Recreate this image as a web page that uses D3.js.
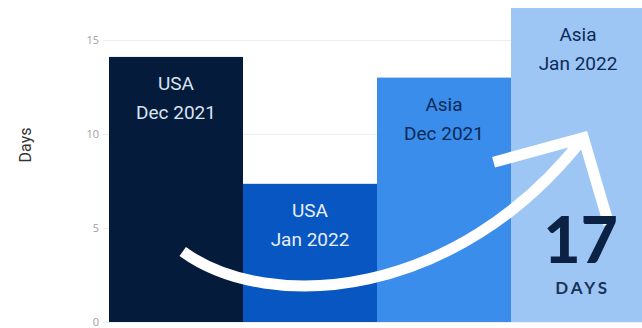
<!DOCTYPE html>
<html>
<head>
<meta charset="utf-8">
<script src="https://cdn.jsdelivr.net/npm/d3@7"></script>
<style>
  body { margin: 0; background: #fff; }
  svg { display: block; font-family: Roboto, "Noto Sans", sans-serif; }
</style>
</head>
<body>
<div id="chart"></div>
<script>
// 데이터
const regions = ['USA', 'USA', 'Asia', 'Asia'];
const months = ['Dec 2021', 'Jan 2022', 'Dec 2021', 'Jan 2022'];
const days = [14.1, 7.35, 13.0, 16.7];
const yTicks = [0, 5, 10, 15];
const barColors = ['#041b3b', '#0756c2', '#3a8deb', '#9ec6f5'];
const labelColors = ['#d9e4f1', '#e8eff9', '#0c2a55', '#0c2a55'];

// 화살표 (밴드 인덱스, 값) 좌표
const arrowCurve = [[0.55, 3.75], [1.2, 0.4], [2.6, 1.2], [3.54, 9.8]];
const arrowHead = [[2.87, 8.5], [3.54, 9.8], [3.73, 5.2]];
const bigNumber = '17';
const bigUnit = 'DAYS';

const width = 642, height = 328;
const margin = { top: 8, right: -3, bottom: 6, left: 109 };

const svg = d3.select('#chart')
  .append('svg')
  .attr('width', width)
  .attr('height', height);

const x = d3.scaleBand()
  .domain(d3.range(days.length))
  .range([margin.left, width - margin.right])
  .padding(0);

const xPos = d3.scaleLinear()
  .domain([0, days.length])
  .range([margin.left, width - margin.right]);

const y = d3.scaleLinear()
  .domain([0, 15])
  .range([height - margin.bottom, 40]);

// 그리드
svg.append('g')
  .attr('transform', `translate(${margin.left - 6},0)`)
  .call(d3.axisLeft(y).tickValues(yTicks).tickSize(-(width - margin.left + 6)).tickPadding(4))
  .call(g => g.select('.domain').remove())
  .call(g => g.selectAll('.tick line').attr('stroke', '#eeeeee'))
  .call(g => g.selectAll('.tick text')
    .attr('fill', '#a0a0a0')
    .attr('font-size', 11)
    .attr('font-family', '"Open Sans", sans-serif'));

// 축 제목
svg.append('text')
  .attr('transform', `translate(27,${145}) rotate(-90)`)
  .attr('text-anchor', 'middle')
  .attr('dominant-baseline', 'middle')
  .attr('font-size', 16)
  .attr('fill', '#333')
  .text('Days');

// 막대
svg.append('g')
  .selectAll('rect')
  .data(days)
  .join('rect')
  .attr('x', (d, i) => x(i))
  .attr('y', d => y(d))
  .attr('width', x.bandwidth())
  .attr('height', d => y(0) - y(d))
  .attr('fill', (d, i) => barColors[i]);

// 막대 라벨
const labels = svg.append('g')
  .selectAll('text')
  .data(days)
  .join('text')
  .attr('text-anchor', 'middle')
  .attr('font-size', 19)
  .attr('fill', (d, i) => labelColors[i]);

labels.append('tspan')
  .attr('x', (d, i) => x(i) + x.bandwidth() / 2)
  .attr('y', d => y(d) + 33)
  .text((d, i) => regions[i]);

labels.append('tspan')
  .attr('x', (d, i) => x(i) + x.bandwidth() / 2)
  .attr('y', d => y(d) + 62)
  .text((d, i) => months[i]);

// 화살표
const pt = p => [xPos(p[0]), y(p[1])];
const c = arrowCurve.map(pt);
const arrowPath = d3.path();
arrowPath.moveTo(c[0][0], c[0][1]);
arrowPath.bezierCurveTo(c[1][0], c[1][1], c[2][0], c[2][1], c[3][0], c[3][1]);

svg.append('path')
  .attr('d', arrowPath.toString())
  .attr('fill', 'none')
  .attr('stroke', '#fff')
  .attr('stroke-width', 11);

svg.append('path')
  .attr('d', d3.line()(arrowHead.map(pt)))
  .attr('fill', 'none')
  .attr('stroke', '#fff')
  .attr('stroke-width', 11)
  .attr('stroke-linejoin', 'miter');

// 17 DAYS
const cx = xPos(3.52);
svg.append('text')
  .attr('x', cx)
  .attr('y', 263)
  .attr('text-anchor', 'middle')
  .attr('font-family', 'Lato, sans-serif')
  .attr('font-weight', 900)
  .attr('font-size', 64)
  .attr('fill', '#0b2244')
  .text(bigNumber);

svg.append('text')
  .attr('x', cx + 2)
  .attr('y', 294)
  .attr('text-anchor', 'middle')
  .attr('font-family', 'Lato, sans-serif')
  .attr('font-weight', 700)
  .attr('font-size', 17)
  .attr('letter-spacing', 3)
  .attr('fill', '#1a3358')
  .text(bigUnit);
</script>
</body>
</html>
